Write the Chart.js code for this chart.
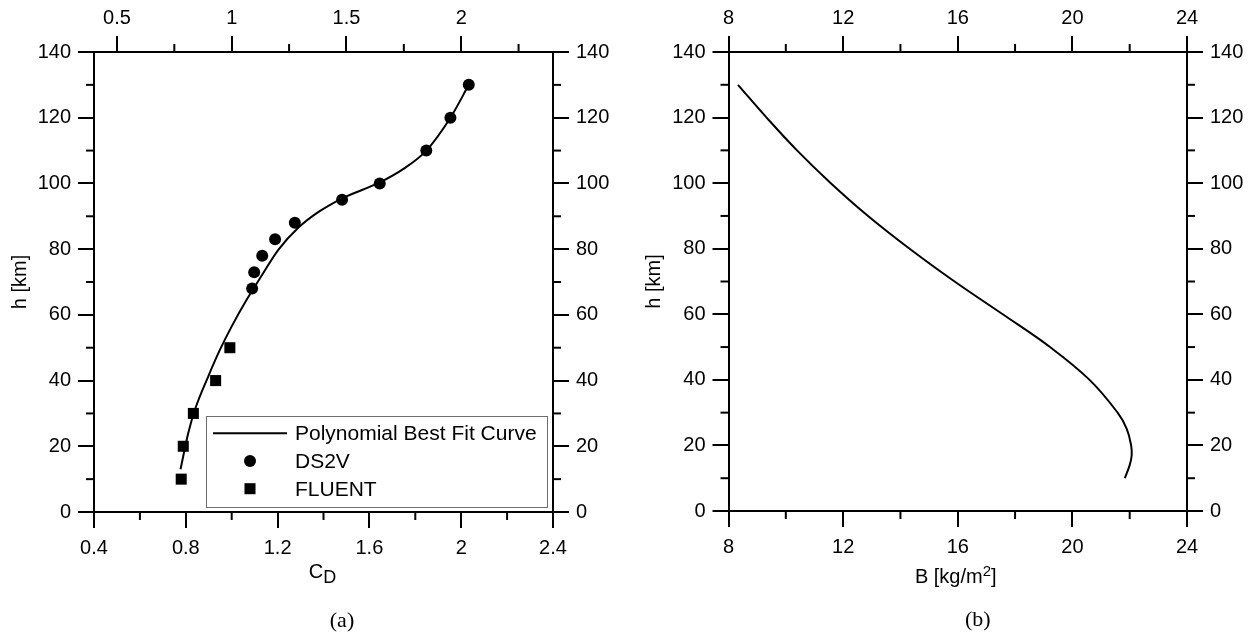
<!DOCTYPE html>
<html>
<head>
<meta charset="utf-8">
<script src="https://cdn.jsdelivr.net/npm/chart.js@4.4.0/dist/chart.umd.min.js"></script>
<style>
body { margin: 0; background: #fff; width: 1252px; height: 636px; position: relative; overflow: hidden; }
canvas { position: absolute; top: 0; }
#chartA { left: 0; }
#chartB { left: 626px; }
</style>
</head>
<body>
<canvas id="chartA" width="626" height="636"></canvas>
<canvas id="chartB" width="626" height="636"></canvas>
<script>
// (a) drag coefficient vs altitude
var fitCd = [0.777, 0.811, 0.840, 0.898, 0.949, 1.0, 1.065, 1.131, 1.203, 1.29, 1.38, 1.48, 1.645, 1.75, 1.848, 1.953, 2.033];
var fitH  = [13, 24.1, 31.2, 41.3, 49.4, 56.5, 64.6, 72.0, 79.8, 86.5, 91.4, 95.4, 100.3, 104.5, 110, 120, 130];
var ds2vCd = [1.089, 1.098, 1.133, 1.189, 1.275, 1.481, 1.645, 1.848, 1.953, 2.033];
var ds2vH  = [68, 73, 78, 83, 88, 95, 100, 110, 120, 130];
var fluentCd = [0.78, 0.789, 0.833, 0.93, 0.992];
var fluentH  = [10, 20, 30, 40, 50];

// (b) ballistic coefficient vs altitude
var ballB = [8.33, 9.33, 10.39, 11.57, 12.87, 14.32, 15.89, 17.57, 19.22, 20.6, 21.58, 21.9, 22.05, 22.07, 22.0, 21.83];
var ballH = [130, 120, 110, 100, 90, 80, 70, 60, 50, 40, 30, 25, 20, 17, 14, 10];

// tick labels
var hTicks = [0, 20, 40, 60, 80, 100, 120, 140];
var hMinor = [10, 30, 50, 70, 90, 110, 130];
var cdTicks = [0.4, 0.8, 1.2, 1.6, 2, 2.4];
var cdMinor = [0.6, 1, 1.4, 1.8, 2.2];
var cdTopTicks = [0.5, 1, 1.5, 2];
var cdTopMinor = [0.75, 1.25, 1.75, 2.25];
var bTicks = [8, 12, 16, 20, 24];
var bMinor = [10, 14, 18, 22];

var SANS = "'Liberation Sans', Arial, Helvetica, sans-serif";
Chart.defaults.font.family = SANS;
Chart.defaults.font.size = 20;
Chart.defaults.color = '#000';

function pts(xs, ys) {
  return xs.map(function(x, i) { return { x: x, y: ys[i] }; });
}

function axis(pos, min, max, ticks, size, pad) {
  return {
    type: 'linear',
    position: pos,
    min: min,
    max: max,
    afterBuildTicks: function(s) {
      s.ticks = ticks.map(function(v) { return { value: v }; });
    },
    afterFit: function(s) {
      if (pos === 'left' || pos === 'right') s.width = size; else s.height = size;
    },
    grid: { drawOnChartArea: false, color: '#000', lineWidth: 2, tickLength: 16 },
    border: { color: '#000', width: 2 },
    ticks: {
      color: '#000', padding: pad, maxRotation: 0, autoSkip: false,
      callback: function(v) { return String(v); }
    }
  };
}

// minor ticks, axis titles, caption and legend
function decor(cfg) {
  return {
    id: 'decor',
    afterDraw: function(chart) {
      var ctx = chart.ctx, a = chart.chartArea;
      ctx.save();
      ctx.strokeStyle = '#000';
      ctx.lineWidth = 2;
      cfg.minor.forEach(function(m) {
        var s = chart.scales[m.id];
        m.values.forEach(function(v) {
          var p = s.getPixelForValue(v);
          ctx.beginPath();
          if (s.position === 'bottom') { ctx.moveTo(p, a.bottom); ctx.lineTo(p, a.bottom + 8); }
          if (s.position === 'top') { ctx.moveTo(p, a.top); ctx.lineTo(p, a.top - 8); }
          if (s.position === 'left') { ctx.moveTo(a.left, p); ctx.lineTo(a.left - 8, p); }
          if (s.position === 'right') { ctx.moveTo(a.right, p); ctx.lineTo(a.right + 8, p); }
          ctx.stroke();
        });
      });

      ctx.fillStyle = '#000';
      // y title
      ctx.save();
      ctx.translate(a.left - 74, (a.top + a.bottom) / 2);
      ctx.rotate(-Math.PI / 2);
      ctx.font = '20px ' + SANS;
      ctx.textAlign = 'center';
      ctx.textBaseline = 'middle';
      ctx.fillText('h [km]', 0, 0);
      ctx.restore();

      // x title with sub/superscript
      ctx.textAlign = 'left';
      ctx.textBaseline = 'alphabetic';
      var total = 0;
      cfg.xTitle.forEach(function(p) {
        ctx.font = p.size + 'px ' + SANS;
        p.w = ctx.measureText(p.t).width;
        total += p.w;
      });
      var x = (a.left + a.right) / 2 + cfg.xTitleDx - total / 2;
      var base = a.bottom + cfg.xTitleDy;
      cfg.xTitle.forEach(function(p) {
        ctx.font = p.size + 'px ' + SANS;
        ctx.fillText(p.t, x, base + p.dy);
        x += p.w;
      });

      // caption
      ctx.font = '22px "Liberation Serif", "Times New Roman", serif';
      ctx.textAlign = 'center';
      ctx.fillText(cfg.caption, (a.left + a.right) / 2 + cfg.captionDx, a.bottom + 115);

      if (cfg.legend) {
        var lx = a.right - 347, ly = a.bottom - 96, lw = 341, lh = 91;
        ctx.fillStyle = '#fff';
        ctx.fillRect(lx, ly, lw, lh);
        ctx.strokeStyle = '#6e6e6e';
        ctx.lineWidth = 1;
        ctx.strokeRect(lx + 0.5, ly + 0.5, lw, lh);
        var rows = [17.3, 45, 72.7];
        chart.data.datasets.forEach(function(ds, i) {
          var cy = ly + rows[i];
          ctx.fillStyle = '#000';
          ctx.strokeStyle = '#000';
          if (ds.showLine) {
            ctx.lineWidth = 2;
            ctx.beginPath();
            ctx.moveTo(lx + 7, cy);
            ctx.lineTo(lx + 81, cy);
            ctx.stroke();
          } else {
            Chart.helpers.drawPoint(ctx, { pointStyle: ds.pointStyle, radius: ds.pointRadius, rotation: 0, borderWidth: 0 }, lx + 44, cy);
          }
          ctx.font = '21px ' + SANS;
          ctx.textAlign = 'left';
          ctx.textBaseline = 'alphabetic';
          ctx.fillText(ds.label, lx + 89, cy + 7);
        });
      }
      ctx.restore();
    }
  };
}

new Chart(document.getElementById('chartA'), {
  type: 'scatter',
  data: {
    datasets: [
      {
        label: 'Polynomial Best Fit Curve',
        data: pts(fitCd, fitH),
        showLine: true,
        borderColor: '#000',
        borderWidth: 2,
        pointRadius: 0,
        cubicInterpolationMode: 'monotone'
      },
      {
        label: 'DS2V',
        data: pts(ds2vCd, ds2vH),
        showLine: false,
        pointStyle: 'circle',
        pointRadius: 6,
        backgroundColor: '#000',
        borderWidth: 0
      },
      {
        label: 'FLUENT',
        data: pts(fluentCd, fluentH),
        showLine: false,
        pointStyle: 'rect',
        pointRadius: 7.8,
        backgroundColor: '#000',
        borderWidth: 0
      }
    ]
  },
  options: {
    responsive: false,
    animation: false,
    layout: { padding: 0 },
    plugins: { legend: { display: false }, tooltip: { enabled: false } },
    scales: {
      x: axis('bottom', 0.4, 2.4, cdTicks, 124, 8),
      xTop: axis('top', 0.4, 2.4, cdTopTicks, 52, 6),
      y: axis('left', 0, 140, hTicks, 94, 7),
      yRight: axis('right', 0, 140, hTicks, 73, 7)
    }
  },
  plugins: [decor({
    minor: [
      { id: 'x', values: cdMinor },
      { id: 'xTop', values: cdTopMinor },
      { id: 'y', values: hMinor },
      { id: 'yRight', values: hMinor }
    ],
    xTitle: [{ t: 'C', size: 20, dy: 0 }, { t: 'D', size: 18, dy: 5 }],
    xTitleDx: -1,
    xTitleDy: 66,
    caption: '(a)',
    captionDx: 18.5,
    legend: true
  })]
});

new Chart(document.getElementById('chartB'), {
  type: 'scatter',
  data: {
    datasets: [
      {
        label: 'B',
        data: pts(ballB, ballH),
        showLine: true,
        borderColor: '#000',
        borderWidth: 2,
        pointRadius: 0,
        tension: 0.4
      }
    ]
  },
  options: {
    responsive: false,
    animation: false,
    layout: { padding: 0 },
    plugins: { legend: { display: false }, tooltip: { enabled: false } },
    scales: {
      x: axis('bottom', 8, 24, bTicks, 125, 8),
      xTop: axis('top', 8, 24, bTicks, 52, 6),
      y: axis('left', 0, 140, hTicks, 102.5, 7),
      yRight: axis('right', 0, 140, hTicks, 65, 7)
    }
  },
  plugins: [decor({
    minor: [
      { id: 'x', values: bMinor },
      { id: 'xTop', values: bMinor },
      { id: 'y', values: hMinor },
      { id: 'yRight', values: hMinor }
    ],
    xTitle: [{ t: 'B [kg/m', size: 20, dy: 0 }, { t: '2', size: 15, dy: -7 }, { t: ']', size: 20, dy: 0 }],
    xTitleDx: -2,
    xTitleDy: 72,
    caption: '(b)',
    captionDx: 20,
    legend: false
  })]
});
</script>
</body>
</html>
